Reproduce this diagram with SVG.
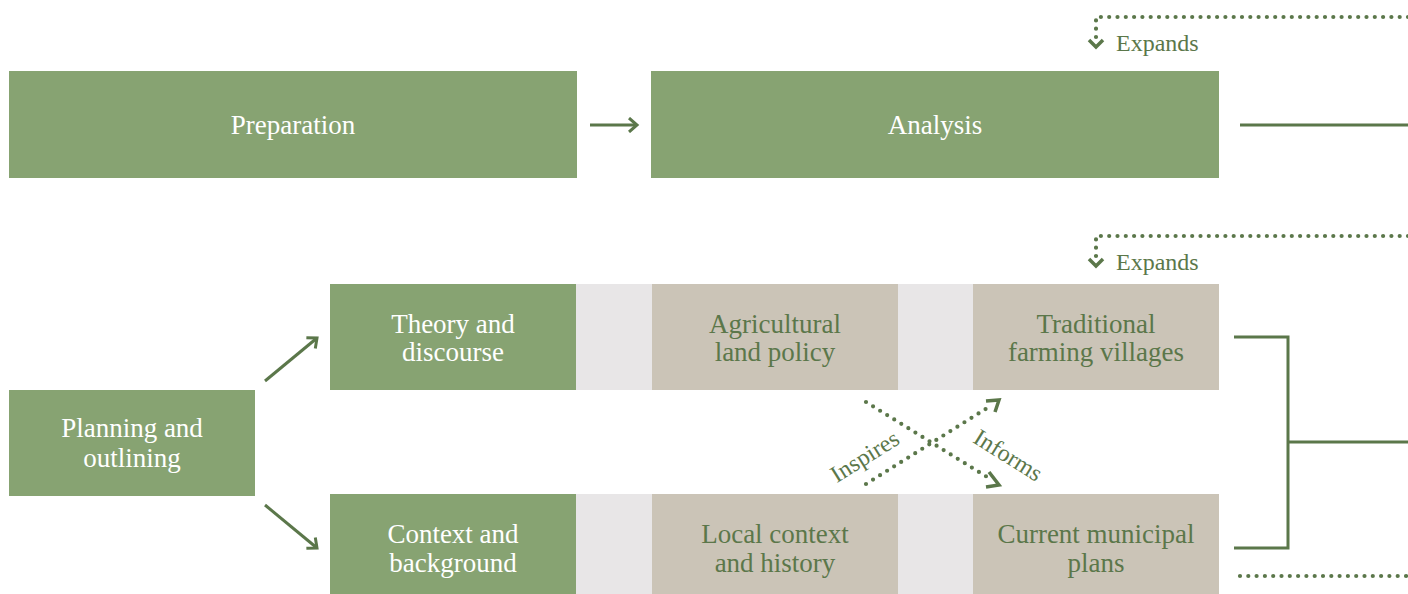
<svg xmlns="http://www.w3.org/2000/svg" width="1408" height="594" viewBox="0 0 1408 594">
<style>
.g{fill:#87a372}
.t{fill:#cbc4b7}
.l{fill:#e8e6e7}
.wt{font-family:"Liberation Serif","DejaVu Serif",serif;font-size:27px;fill:#ffffff;text-anchor:middle}
.dt{font-family:"Liberation Serif","DejaVu Serif",serif;font-size:27px;fill:#5b774a;text-anchor:middle}
.lab{font-family:"Liberation Serif","DejaVu Serif",serif;font-size:24px;fill:#5b774a}
.ln{stroke:#5b774a;stroke-width:3;fill:none}
.dot{stroke:#5b774a;stroke-width:4.2;fill:none;stroke-linecap:round;stroke-dasharray:0 8.3}
.ch{fill:none;stroke:#5b774a;stroke-width:3.5}
</style>
<defs>
<marker id="ah" markerWidth="16" markerHeight="16" refX="11" refY="8" orient="auto" markerUnits="userSpaceOnUse">
<path d="M3,1 L11,8 L3,15" fill="none" stroke="#5b774a" stroke-width="3"/>
</marker>
</defs>
<rect width="1408" height="594" fill="#ffffff"/>
<g id="bands">
<rect class="l" x="576" y="284" width="397" height="106"/>
<rect class="l" x="576" y="494" width="397" height="100"/>
</g>
<g id="preparation"><rect class="g" x="9" y="71" width="568" height="107"/><text class="wt" x="293" y="134">Preparation</text></g>
<g id="analysis"><rect class="g" x="651" y="71" width="568" height="107"/><text class="wt" x="935" y="134">Analysis</text></g>
<g id="planning"><rect class="g" x="9" y="390" width="246" height="106"/><text class="wt" x="132" y="437">Planning and</text><text class="wt" x="132" y="467">outlining</text></g>
<g id="theory"><rect class="g" x="330" y="284" width="246" height="106"/><text class="wt" x="453" y="333">Theory and</text><text class="wt" x="453" y="361">discourse</text></g>
<g id="agri"><rect class="t" x="652" y="284" width="246" height="106"/><text class="dt" x="775" y="333">Agricultural</text><text class="dt" x="775" y="361">land policy</text></g>
<g id="villages"><rect class="t" x="973" y="284" width="246" height="106"/><text class="dt" x="1096" y="333">Traditional</text><text class="dt" x="1096" y="361">farming villages</text></g>
<g id="context"><rect class="g" x="330" y="494" width="246" height="100"/><text class="wt" x="453" y="543">Context and</text><text class="wt" x="453" y="572">background</text></g>
<g id="local"><rect class="t" x="652" y="494" width="246" height="100"/><text class="dt" x="775" y="543">Local context</text><text class="dt" x="775" y="572">and history</text></g>
<g id="municipal"><rect class="t" x="973" y="494" width="246" height="100"/><text class="dt" x="1096" y="543">Current municipal</text><text class="dt" x="1096" y="572">plans</text></g>
<g id="connectors">
<line class="ln" x1="590" y1="125" x2="637" y2="125" marker-end="url(#ah)"/>
<line class="ln" x1="1240" y1="125" x2="1408" y2="125"/>
<line class="ln" x1="265" y1="381" x2="317" y2="338" marker-end="url(#ah)"/>
<line class="ln" x1="265" y1="505" x2="317" y2="548" marker-end="url(#ah)"/>
<path class="ln" d="M1234,337 H1288 V548 H1234 M1288,442 H1408"/>
<path class="dot" d="M1408,17 H1096 V38"/>
<path class="ch" d="M1089,40 L1096,47 L1103,40"/>
<text class="lab" x="1116" y="51">Expands</text>
<path class="dot" d="M1408,236 H1096 V257"/>
<path class="ch" d="M1089,259 L1096,266 L1103,259"/>
<text class="lab" x="1116" y="270">Expands</text>
<line class="dot" x1="1240" y1="576" x2="1408" y2="576"/>
<line class="dot" x1="866" y1="484" x2="992" y2="405"/>
<path class="ch" d="M986,401 L999,400 L995,412"/>
<line class="dot" x1="866" y1="402" x2="992" y2="480"/>
<path class="ch" d="M989,472 L999,485 L986,487"/>
<text class="lab" transform="translate(869,463) rotate(-32)" text-anchor="middle">Inspires</text>
<text class="lab" transform="translate(1004,462) rotate(32)" text-anchor="middle">Informs</text>
</g>
</svg>
